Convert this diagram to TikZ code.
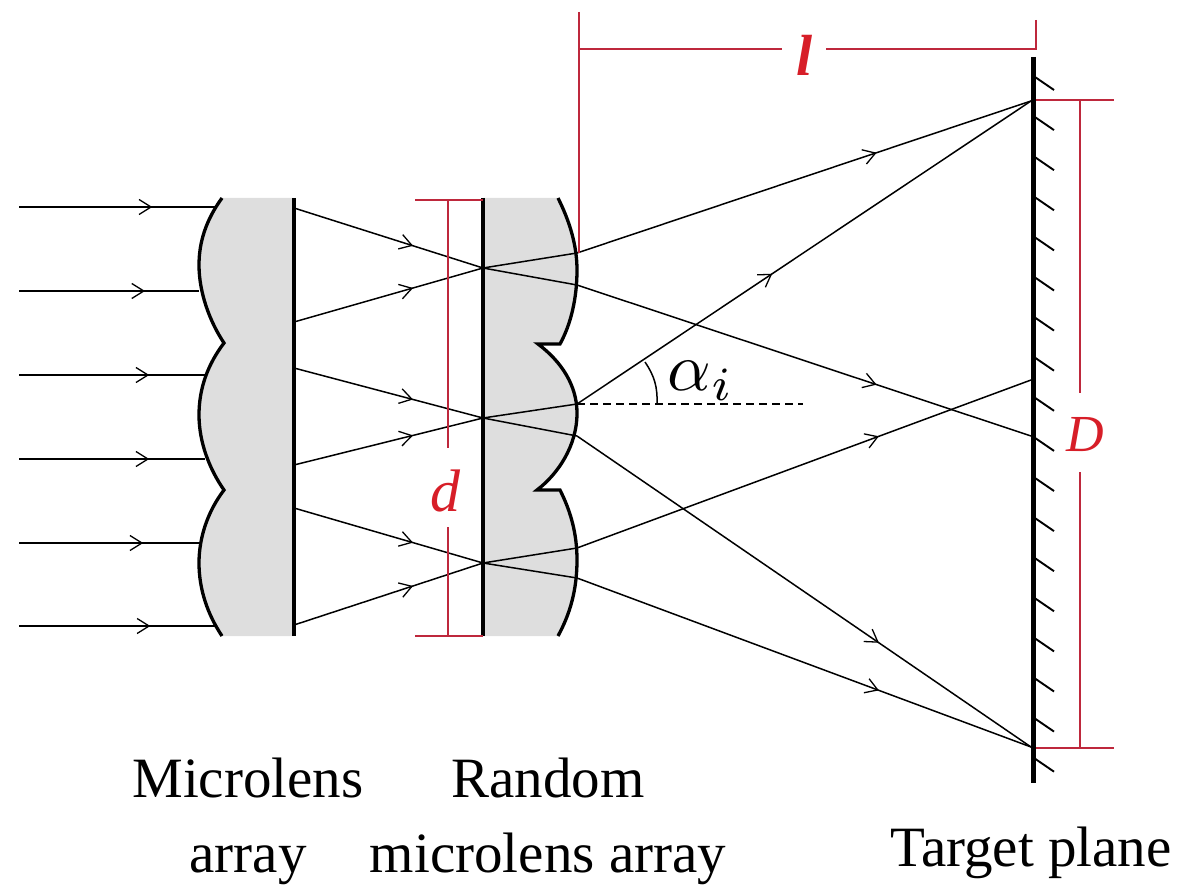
\documentclass[tikz,border=0pt]{standalone}
\usepackage{fontspec}
\setmainfont{Liberation Serif}
\usetikzlibrary{arrows.meta,decorations.markings}
\definecolor{lensgray}{RGB}{222,222,222}
\definecolor{dimred}{RGB}{190,40,60}
\definecolor{labelred}{RGB}{215,30,40}

\newcommand{\lensonecurve}{(222,198) .. controls (206,220) and (199,242) .. (199,265)
    .. controls (199,293) and (210,322) .. (224,343)
    .. controls (208,364) and (199,388) .. (199,415)
    .. controls (199,443) and (210,470) .. (224,490)
    .. controls (208,511) and (199,537) .. (199,563)
    .. controls (199,590) and (208,615) .. (222,636)}
\newcommand{\lenstwocurve}{(558,198) .. controls (570,222) and (577,246) .. (577,270)
    .. controls (577,298) and (571,324) .. (560,344) -- (538,344)
    .. controls (562,362) and (577,386) .. (577,413)
    .. controls (577,446) and (558,474) .. (537,490) -- (560,490)
    .. controls (571,512) and (577,534) .. (577,560)
    .. controls (577,590) and (570,614) .. (558,636)}

\begin{document}
\begin{tikzpicture}[x=1pt,y=-1pt]
        \tikzstyle{lens edge}=[draw=black,line width=3.3pt]
        \tikzstyle{flat edge}=[draw=black,line width=3.4pt]
        \tikzstyle{plain ray}=[draw=black,line width=1.5pt]
        \tikzstyle{heavy ray}=[draw=black,line width=2.6pt]
        \tikzstyle{ray tip}=[decoration={markings,mark=at position #1 with {\arrow{Straight Barb[length=12pt,width=15pt,line width=1.3pt]}}},postaction={decorate}]
        \tikzstyle{dim line}=[draw=dimred,line width=1.4pt]
        \tikzstyle{caption}=[font=\fontsize{57}{75}\selectfont,align=center,inner sep=0pt]
        \tikzstyle{dim label}=[text=labelred,inner sep=0pt,font=\fontsize{60}{60}\selectfont\itshape]

        \useasboundingbox (0,0) rectangle (1182,890);

        % lens bodies
        \fill[lensgray] \lensonecurve -- (294,636) -- (294,198) -- cycle;
        \fill[lensgray] \lenstwocurve -- (483,636) -- (483,198) -- cycle;
        \draw[lens edge] \lensonecurve;
        \draw[lens edge] \lenstwocurve;

        \coordinate (flatA1) at (294,198);
        \coordinate (flatA2) at (294,636);
        \coordinate (flatB1) at (483,198);
        \coordinate (flatB2) at (483,636);
        \draw[flat edge] (flatA1) -- (flatA2);
        \draw[flat edge] (flatB1) -- (flatB2);

        % target plane
        \coordinate (planeTop) at (1033,57);
        \coordinate (planeBot) at (1033,783);
        \draw[draw=black,line width=5pt] (planeTop) -- (planeBot);
        \foreach \hy in {0,...,17}
            \draw[plain ray,line width=1.9pt] (1035,77+40.1*\hy) -- (1054,90+40.1*\hy);

        % ray ends
        \coordinate (in1) at (19,207);
        \coordinate (in2) at (19,291);
        \coordinate (in3) at (19,375);
        \coordinate (in4) at (19,459);
        \coordinate (in5) at (19,543);
        \coordinate (in6) at (19,626);
        \coordinate (lensA1) at (215,207);
        \coordinate (lensA2) at (199,291);
        \coordinate (lensA3) at (205,375);
        \coordinate (lensA4) at (205,459);
        \coordinate (lensA5) at (199,543);
        \coordinate (lensA6) at (215,626);
        \coordinate (out1) at (294,208);
        \coordinate (out2) at (294,322);
        \coordinate (out3) at (294,368);
        \coordinate (out4) at (294,465);
        \coordinate (out5) at (294,508);
        \coordinate (out6) at (294,625);
        \coordinate (focusA) at (483,268);
        \coordinate (focusB) at (483,418);
        \coordinate (focusC) at (483,563);
        \coordinate (exit1) at (577,285);
        \coordinate (exit2) at (577,253);
        \coordinate (exit3) at (577,436);
        \coordinate (exit4) at (577,404);
        \coordinate (exit5) at (577,578);
        \coordinate (exit6) at (577,548);
        \coordinate (spotTop) at (1031,101);
        \coordinate (spotUp) at (1031,436);
        \coordinate (spotLow) at (1031,380);
        \coordinate (spotBot) at (1031,747);

        \draw[heavy ray,ray tip=0.68] (in1) -- (lensA1);
        \draw[plain ray,ray tip=0.70] (in2) -- (lensA2);
        \draw[plain ray,ray tip=0.70] (in3) -- (lensA3);
        \draw[plain ray,ray tip=0.70] (in4) -- (lensA4);
        \draw[plain ray,ray tip=0.69] (in5) -- (lensA5);
        \draw[heavy ray,ray tip=0.67] (in6) -- (lensA6);

        \draw[plain ray,ray tip=0.63] (out1) -- (focusA);
        \draw[plain ray,ray tip=0.63] (out2) -- (focusA);
        \draw[plain ray,ray tip=0.63] (out3) -- (focusB);
        \draw[plain ray,ray tip=0.63] (out4) -- (focusB);
        \draw[plain ray,ray tip=0.63] (out5) -- (focusC);
        \draw[plain ray,ray tip=0.63] (out6) -- (focusC);

        \draw[plain ray] (focusA) -- (exit1);
        \draw[plain ray] (focusA) -- (exit2);
        \draw[plain ray] (focusB) -- (exit3);
        \draw[plain ray] (focusB) -- (exit4);
        \draw[plain ray] (focusC) -- (exit5);
        \draw[plain ray] (focusC) -- (exit6);

        \draw[plain ray,ray tip=0.66] (exit1) -- (spotUp);
        \draw[plain ray,ray tip=0.66] (exit2) -- (spotTop);
        \draw[plain ray,ray tip=0.665] (exit3) -- (spotBot);
        \draw[plain ray,ray tip=0.43] (exit4) -- (spotTop);
        \draw[plain ray,ray tip=0.665] (exit5) -- (spotBot);
        \draw[plain ray,ray tip=0.665] (exit6) -- (spotLow);

        % angle
        \coordinate (dashEnd) at (803,404);
        \coordinate (arcA) at (657,404);
        \coordinate (arcB) at (645,362);
        \draw[plain ray,dash pattern=on 8pt off 5pt] (exit4) -- (dashEnd);
        \draw[plain ray] (arcA) to[bend right=18] (arcB);
        \node[inner sep=0pt,scale=6.8] (alpha) at (701,381) {$\alpha_i$};

        % dimensions
        \node[dim label,font=\fontsize{58}{58}\selectfont\bfseries\itshape] (llabel) at (805,55) {l};
        \coordinate (lLeftTop) at (579,12);
        \coordinate (lLeftBot) at (579,253);
        \coordinate (lRightTop) at (1036,20);
        \coordinate (lRightBot) at (1036,50);
        \coordinate (lLeft) at (579,49);
        \coordinate (lRight) at (1036,49);
        \coordinate (lGapL) at (782,49);
        \coordinate (lGapR) at (826,49);
        \draw[dim line] (lLeftTop) -- (lLeftBot);
        \draw[dim line] (lRightTop) -- (lRightBot);
        \draw[dim line] (lLeft) -- (lGapL);
        \draw[dim line] (lGapR) -- (lRight);

        \node[dim label] (dlabel) at (445,491) {d};
        \coordinate (dTopL) at (415,200);
        \coordinate (dTopR) at (483,200);
        \coordinate (dBotL) at (415,636);
        \coordinate (dBotR) at (483,636);
        \coordinate (dTop) at (448,200);
        \coordinate (dBot) at (448,636);
        \coordinate (dGapT) at (448,448);
        \coordinate (dGapB) at (448,527);
        \draw[dim line] (dTopL) -- (dTopR);
        \draw[dim line] (dBotL) -- (dBotR);
        \draw[dim line] (dTop) -- (dGapT);
        \draw[dim line] (dGapB) -- (dBot);

        \node[dim label,font=\fontsize{52}{52}\selectfont\itshape] (Dlabel) at (1085,435) {D};
        \coordinate (DTopL) at (1036,100);
        \coordinate (DTopR) at (1114,100);
        \coordinate (DBotL) at (1036,748);
        \coordinate (DBotR) at (1114,748);
        \coordinate (DTop) at (1080,100);
        \coordinate (DBot) at (1080,748);
        \coordinate (DGapT) at (1080,393);
        \coordinate (DGapB) at (1080,472);
        \draw[dim line] (DTopL) -- (DTopR);
        \draw[dim line] (DBotL) -- (DBotR);
        \draw[dim line] (DTop) -- (DGapT);
        \draw[dim line] (DGapB) -- (DBot);

        % captions
        \node[caption] (lensA) at (248,821) {Microlens\\array};
        \node[caption] (lensB) at (548,821) {Random\\microlens array};
        \node[caption] (plane) at (1031,853) {Target plane};
    \end{tikzpicture}
\end{document}
